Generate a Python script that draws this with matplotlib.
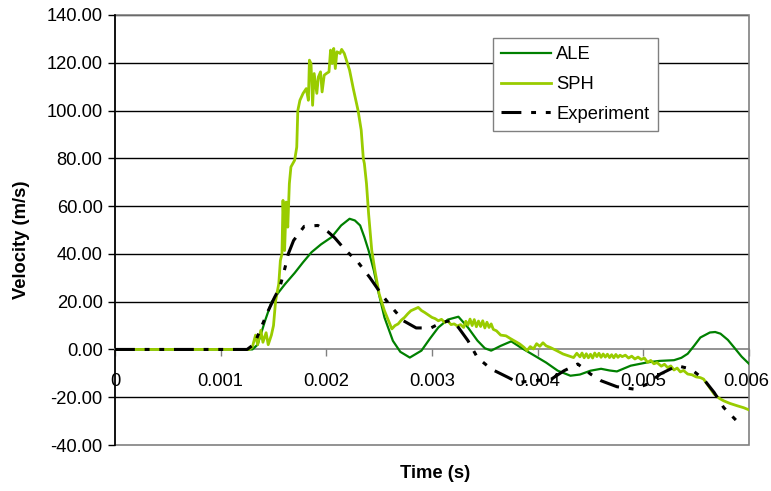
import matplotlib
matplotlib.use("Agg")
import matplotlib.pyplot as plt
import matplotlib.transforms as mtransforms
from matplotlib.patches import Rectangle

plt.rcParams['font.family'] = ['Liberation Sans', 'DejaVu Sans']

# ---- data (time in ms, velocity in m/s) ----
ale_t_ms = [0, 1.30, 1.35, 1.42, 1.48, 1.55, 1.61, 1.70, 1.78, 1.86, 1.95, 2.05, 2.14, 2.22, 2.27,
            2.32, 2.36, 2.40, 2.45, 2.49, 2.55, 2.63, 2.70, 2.79, 2.90, 2.98, 3.06, 3.15, 3.25, 3.34,
            3.43, 3.50, 3.56, 3.65, 3.75, 3.84, 3.97, 4.08, 4.19, 4.31, 4.40, 4.50, 4.60, 4.68, 4.75,
            4.88, 5.04, 5.15, 5.29, 5.36, 5.42, 5.48, 5.54, 5.63, 5.68, 5.73, 5.80, 5.86, 5.93, 6.00]
ale_v = [0, 0, 2, 12, 19.7, 24, 27.4, 32, 36.5, 40.7, 44, 47, 51.9, 54.7, 54,
         51.9, 47, 41.4, 33, 24.6, 13.4, 3.6, -1, -3.4, -0.5, 4.5, 9.2, 12.5, 13.7, 9.2,
         3.7, 0.5, -0.5, 1.5, 3.4, 0.8, -2.6, -5.5, -8.9, -11, -10.5, -8.9, -8.1, -8.8, -9.2,
         -6.8, -5.4, -4.8, -4.5, -3.5, -1.8, 1.5, 5.0, 7.1, 7.3, 6.6, 4, 0.8, -3, -6]

sph_t_ms = [0, 1.27, 1.30, 1.33, 1.35, 1.38, 1.40, 1.43, 1.45, 1.48, 1.50, 1.52, 1.55, 1.565, 1.58,
            1.59, 1.605, 1.62, 1.635, 1.65, 1.665, 1.70, 1.72, 1.73, 1.75, 1.78, 1.81, 1.83, 1.84,
            1.855, 1.87, 1.885, 1.91, 1.925, 1.945, 1.96, 1.98, 2.00, 2.025, 2.04, 2.055, 2.07,
            2.085, 2.10, 2.13, 2.145, 2.17, 2.19, 2.22, 2.255, 2.30, 2.33, 2.35, 2.36, 2.38, 2.40,
            2.43, 2.46, 2.50, 2.55, 2.60, 2.62, 2.65, 2.68, 2.71, 2.74, 2.77, 2.80, 2.83, 2.87,
            2.90, 2.93, 2.96, 3.00, 3.03, 3.06, 3.09, 3.12, 3.15, 3.18, 3.21, 3.24, 3.27, 3.30,
            3.32, 3.34, 3.36, 3.38, 3.40, 3.42, 3.44, 3.46, 3.48, 3.50, 3.52, 3.54, 3.56, 3.58,
            3.61, 3.65, 3.70, 3.74, 3.78, 3.83, 3.87, 3.90, 3.93, 3.96, 3.99, 4.02, 4.05, 4.08,
            4.12, 4.18, 4.24, 4.30, 4.34, 4.37, 4.40, 4.42, 4.44, 4.46, 4.48, 4.50, 4.52, 4.54,
            4.56, 4.58, 4.60, 4.62, 4.64, 4.66, 4.68, 4.70, 4.72, 4.74, 4.76, 4.78, 4.80, 4.83,
            4.86, 4.89, 4.92, 4.95, 4.98, 5.01, 5.04, 5.07, 5.10, 5.13, 5.17, 5.20, 5.23, 5.26,
            5.29, 5.32, 5.35, 5.38, 5.42, 5.46, 5.50, 5.54, 5.57, 5.62, 5.67, 5.72, 5.76, 5.82,
            5.89, 5.95, 6.00]
sph_v = [0, 0, 1, 6, 2, 8, 3, 7, 2, 6, 10, 20.4, 27.5, 37.2, 40,
         62.4, 41.4, 61.7, 51.2, 69.4, 76.4, 79.2, 84.7, 100, 104.3, 107.2, 109.2, 104.3, 121.1,
         119.7, 102.2, 115.5, 107.2, 114.1, 116.2, 107.8, 114.8, 115.5, 116.2, 125.3, 119.7, 126,
         117.6, 124.6, 123.9, 125.6, 123.9, 121.1, 116.9, 109.2, 100.1, 91.8, 79.9, 77.8, 69.4, 56.8,
         41.4, 33, 23.2, 16.2, 10.7, 8.6, 10.0, 10.7, 12.3, 13.4, 14.9, 16.2, 16.8, 17.6,
         16.3, 15.5, 14.6, 13.4, 12.9, 12.0, 12.6, 11.3, 11.9, 10.4, 10.7, 9.8, 10.4, 9.2,
         11.8, 10.2, 12.7, 10.0, 12.5, 9.5, 11.9, 9.6, 12.0, 9.0, 11.4, 9.2, 10.7, 8.4,
         7.8, 6.0, 5.7, 4.6, 3.6, 2.3, 0.9, -0.5, 1.2, 0.2, 2.4, 1.3, 2.8, 1.5,
         0.8, -0.5, -1.9, -2.8, -3.4, -1.6, -3.1, -1.5, -3.5, -1.8, -3.5, -2.0, -3.6, -1.5,
         -3.0, -1.6, -3.3, -1.9, -3.2, -2.0, -3.4, -2.2, -3.5, -2.1, -3.3, -2.4, -3.0, -2.4,
         -3.6, -2.8, -4.0, -3.2, -4.2, -3.6, -5.4, -4.6, -6.0, -5.5, -7.0, -6.2, -7.6, -6.9,
         -8.6, -7.8, -9.4, -8.8, -10.3, -10.6, -11.5, -11.8, -12.4, -15.5, -18.7, -20.5, -21.5, -22.6,
         -23.6, -24.4, -25.3]

exp_t_ms = [0, 1.25, 1.32, 1.37, 1.45, 1.51, 1.56, 1.61, 1.64, 1.69, 1.79, 1.92, 2.02, 2.08, 2.17,
            2.30, 2.41, 2.52, 2.62, 2.73, 2.85, 2.99, 3.09, 3.17, 3.25, 3.34, 3.43, 3.56, 3.72,
            3.81, 3.97, 4.13, 4.25, 4.38, 4.50, 4.60, 4.75, 4.91, 5.04, 5.16, 5.32, 5.45, 5.57,
            5.67, 5.76, 5.89]
exp_v = [0, 0, 2.3, 7.8, 16.2, 21.8, 26, 34.4, 40, 45.6, 51.5, 51.9, 49.1, 46.7, 42.1,
         36.5, 30.2, 23.2, 17.6, 12, 9, 9, 11.3, 12, 9.2, 3.7, -3.4, -8.2, -11.7,
         -13.8, -13.1, -12.4, -8.9, -6.1, -10.3, -13.1, -15.6, -16.6, -14.5, -10.3, -6.8, -8.2, -12.4,
         -18, -24.3, -30.2]

x_ticks = [0, 0.001, 0.002, 0.003, 0.004, 0.005, 0.006]
x_tick_labels = ["0", "0.001", "0.002", "0.003", "0.004", "0.005", "0.006"]
y_ticks = [-40, -20, 0, 20, 40, 60, 80, 100, 120, 140]

FS = 13.2

# ---- figure ----
fig = plt.figure(figsize=(7.71, 4.91), dpi=100)
ax = fig.add_axes([115/771, 1-445/491, (749-115)/771, (445-15)/491])

ax.set_xlim(0, 0.006)
ax.set_ylim(-40, 140)

for y in y_ticks:
    if y not in (0, -40):
        ax.axhline(y, color='black', lw=1.0, zorder=1)

ax.add_patch(Rectangle((0, 0), 1, 1, transform=ax.transAxes, fill=False,
                       edgecolor='#808080', lw=1.2, zorder=1, clip_on=False))

to_s = lambda lst: [v * 1e-3 for v in lst]
ax.plot(to_s(ale_t_ms), ale_v, color='#008000', lw=1.6, label='ALE', zorder=3)
ax.plot(to_s(sph_t_ms), sph_v, color='#99CC00', lw=2.0, label='SPH', zorder=3)
ax.plot(to_s(exp_t_ms), exp_v, color='black', lw=2.2, label='Experiment', zorder=4,
        linestyle=(0, (6.5, 3.2, 1.6, 3.2, 1.6, 3.2)))

ax.spines['top'].set_visible(False)
ax.spines['right'].set_visible(False)
ax.spines['bottom'].set_position(('data', 0))
ax.spines['bottom'].set_color('#808080')
ax.spines['bottom'].set_linewidth(1.2)
ax.spines['left'].set_color('black')
ax.spines['left'].set_linewidth(1.2)

ax.set_xticks(x_ticks)
ax.set_xticklabels(x_tick_labels)
ax.set_yticks(y_ticks)
ax.set_yticklabels([f"{v:.2f}" for v in y_ticks])
ax.tick_params(axis='x', direction='out', length=5, width=1, color='#808080',
               labelsize=FS, pad=12)
ax.tick_params(axis='y', direction='out', length=5, width=1, color='black',
               labelsize=FS, pad=4)

# nudge the last x label slightly left so it stays inside the figure
last = ax.get_xticklabels()[-1]
last.set_transform(last.get_transform() +
                   mtransforms.ScaledTranslation(-2/72, 0, fig.dpi_scale_trans))

leg = ax.legend(loc='upper left', bbox_to_anchor=((493-115)/634, (445-38)/430), fontsize=FS,
                frameon=True, fancybox=False, edgecolor='#808080', framealpha=1,
                handlelength=2.7, labelspacing=0.7, borderpad=0.45, handletextpad=0.3,
                borderaxespad=0)
leg.get_frame().set_linewidth(1.0)

fig.text(435/771, 1-474/491, "Time (s)", ha='center', va='center',
         fontsize=FS, fontweight='bold')
fig.text(22/771, 1-240/491, "Velocity (m/s)", ha='center', va='center',
         rotation=90, fontsize=FS, fontweight='bold')

fig.savefig("out.png", dpi=100)
